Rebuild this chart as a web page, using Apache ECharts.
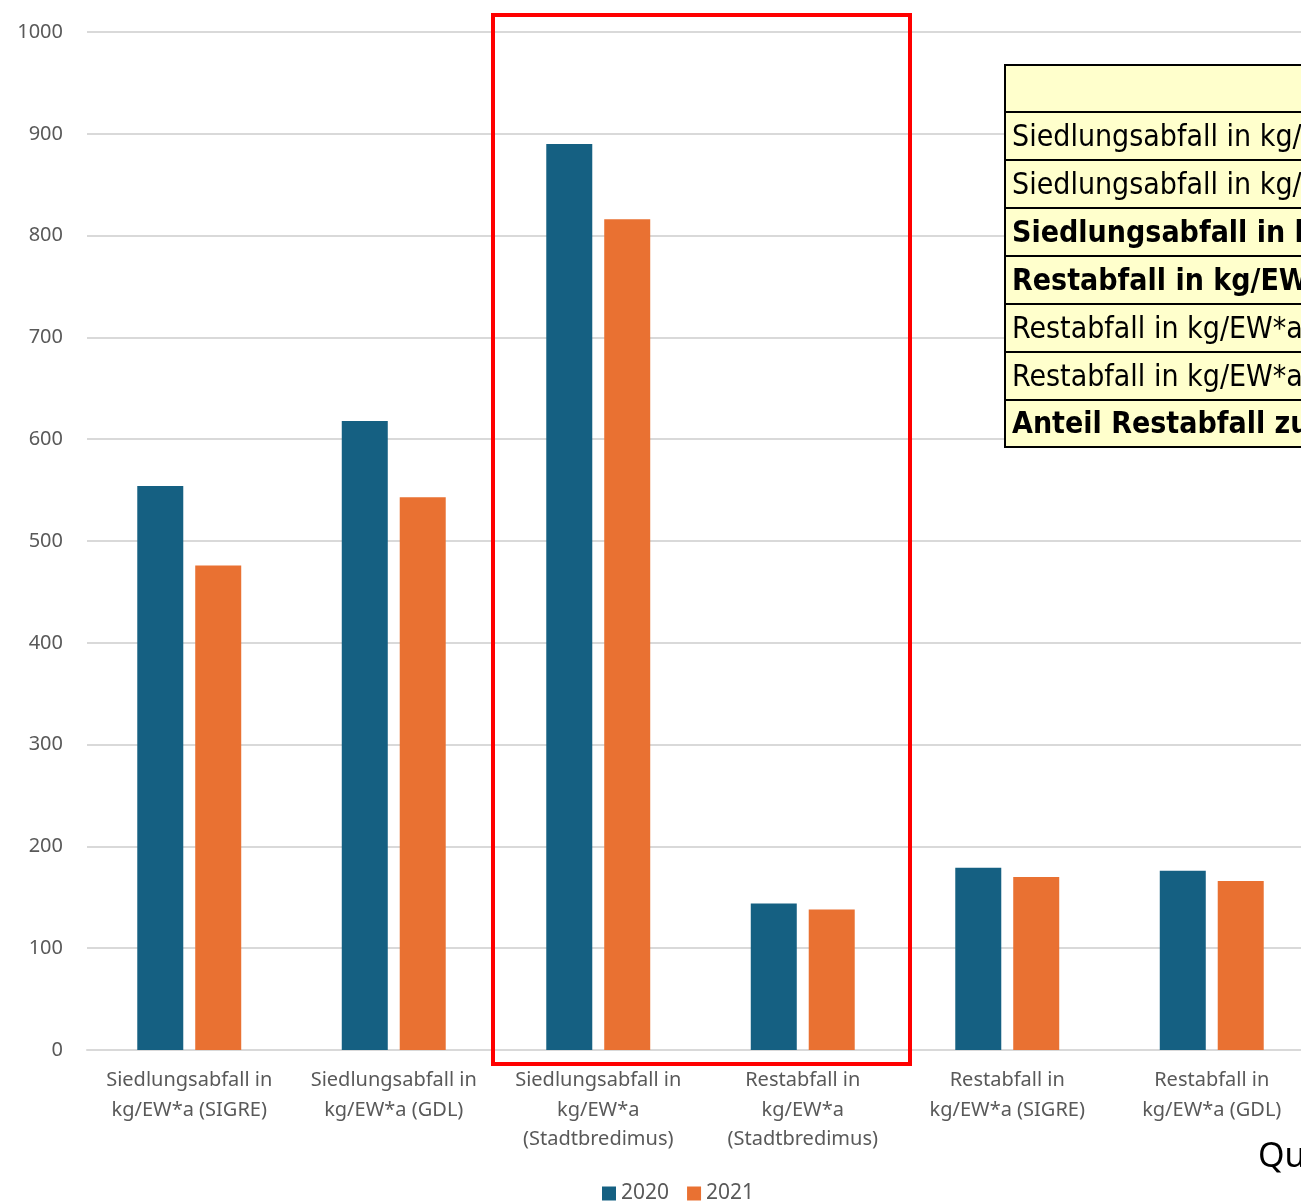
<!DOCTYPE html>
<html>
<head>
<meta charset="utf-8">
<script src="https://cdn.jsdelivr.net/npm/echarts@6/dist/echarts.min.js"></script>
<style>
html,body{margin:0;padding:0;background:#fff;overflow:hidden;width:1301px;height:1202px;}
#main{width:1314px;height:1202px;}
</style>
</head>
<body>
<div id="main"></div>
<script>
var categories = [
  'Siedlungsabfall in\nkg/EW*a (SIGRE)',
  'Siedlungsabfall in\nkg/EW*a (GDL)',
  'Siedlungsabfall in\nkg/EW*a\n(Stadtbredimus)',
  'Restabfall in\nkg/EW*a\n(Stadtbredimus)',
  'Restabfall in\nkg/EW*a (SIGRE)',
  'Restabfall in\nkg/EW*a (GDL)'
];
var values2020 = [554, 618, 890, 144, 179, 176];
var values2021 = [476, 543, 816, 138, 170, 166];
var seriesNames = ['2020', '2021'];
var tableRows = [
  { text: '', bold: false },
  { text: 'Siedlungsabfall in kg/EW*a (SIGRE)', bold: false },
  { text: 'Siedlungsabfall in kg/EW*a (GDL)', bold: false },
  { text: 'Siedlungsabfall in kg/EW*a (Stadtbredimus)', bold: true },
  { text: 'Restabfall in kg/EW*a (Stadtbredimus)', bold: true },
  { text: 'Restabfall in kg/EW*a (SIGRE)', bold: false },
  { text: 'Restabfall in kg/EW*a (GDL)', bold: false },
  { text: 'Anteil Restabfall zu Siedlungsabfall', bold: true }
];
var sourceText = 'Quelle';

var chart = echarts.init(document.getElementById('main'));

var tableEls = [];
var rowTops = [65, 112, 160, 208, 256, 304, 352, 400, 447];
tableRows.forEach(function (r, i) {
  var y0 = rowTops[i], y1 = rowTops[i + 1];
  tableEls.push({
    type: 'rect',
    shape: { x: 1005, y: y0, width: 400, height: y1 - y0 },
    style: { fill: '#FFFFCC', stroke: '#000', lineWidth: 2 },
    z: 10
  });
  if (r.text) {
    tableEls.push({
      type: 'text',
      x: 1012, y: (y0 + y1) / 2 + 2,
      style: {
        text: r.text,
        font: (r.bold ? 'bold ' : '') + '30px "Liberation Sans Narrow", "DejaVu Sans Condensed", "Noto Sans", sans-serif',
        fill: '#000',
        verticalAlign: 'middle',
        align: 'left'
      },
      z: 11
    });
  }
});

var option = {
  backgroundColor: '#fff',
  animation: false,
  color: ['#156082', '#E97132'],
  grid: { left: 87, right: 0, top: 32, bottom: 152, containLabel: false },
  legend: {
    data: seriesNames,
    left: 597,
    top: 1178,
    icon: 'rect',
    itemWidth: 14,
    itemHeight: 14,
    itemGap: 18,
    textStyle: { color: '#595959', fontSize: 21, fontFamily: 'Noto Sans' }
  },
  xAxis: {
    type: 'category',
    data: categories,
    axisLine: { lineStyle: { color: '#d9d9d9', width: 2 } },
    axisTick: { show: false },
    axisLabel: {
      color: '#595959',
      fontSize: 20,
      fontFamily: 'Noto Sans',
      lineHeight: 29.5,
      margin: 16,
      interval: 0
    }
  },
  yAxis: {
    type: 'value',
    min: 0,
    max: 1000,
    interval: 100,
    axisLine: { show: false },
    axisTick: { show: false },
    splitLine: { lineStyle: { color: '#d9d9d9', width: 2 } },
    axisLabel: {
      color: '#595959', fontSize: 20, fontFamily: 'Noto Sans', margin: 24,
      formatter: function (v) { return String(v); }
    }
  },
  series: [
    { name: seriesNames[0], type: 'bar', data: values2020, barWidth: 46, barGap: '26%' },
    { name: seriesNames[1], type: 'bar', data: values2021, barWidth: 46, barGap: '26%' }
  ],
  graphic: [
    {
      type: 'rect',
      shape: { x: 493, y: 15, width: 417, height: 1049 },
      style: { fill: 'none', stroke: '#FF0000', lineWidth: 4 },
      z: 20
    },
    {
      type: 'group',
      children: tableEls
    },
    {
      type: 'text',
      x: 1258, y: 1157,
      style: {
        text: sourceText,
        font: '34px "Noto Sans", sans-serif',
        fill: '#000',
        verticalAlign: 'middle'
      },
      z: 11
    }
  ]
};
chart.setOption(option);
</script>
</body>
</html>
